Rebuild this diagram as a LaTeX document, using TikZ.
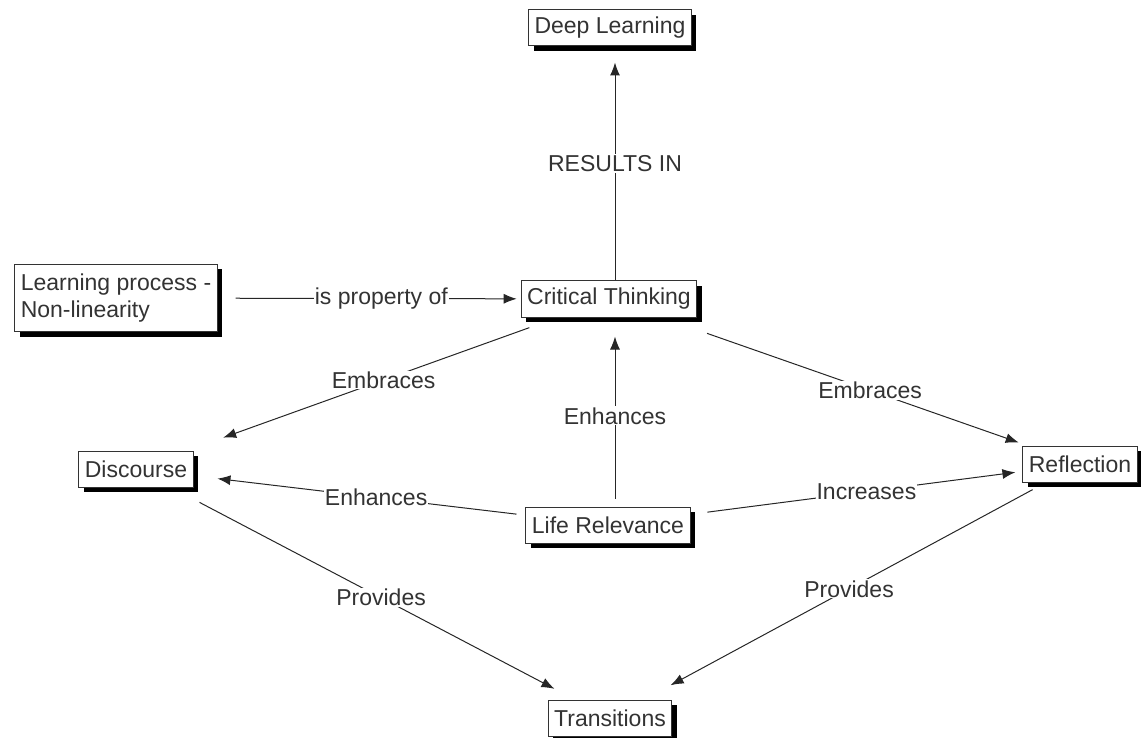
\documentclass[tikz,border=0pt]{standalone}
\usepackage{fontspec}
\setmainfont{Liberation Sans}
\usetikzlibrary{shapes, shadows, arrows.meta}

\begin{document}
\begin{tikzpicture}[x=1pt, y=-1pt]
	\tikzstyle{conceptnode}=[
	draw=black!80,
	line width=1pt,
	fill=white,
	rectangle,
	inner xsep=6pt,
	minimum height=36pt,
	text=black!80,
	font=\fontsize{23}{27}\selectfont,
	drop shadow={shadow xshift=5pt, shadow yshift=-5pt, fill=black, opacity=1}
	]
	\tikzstyle{linklabel}=[
	fill=white,
	inner sep=1pt,
	text=black!80,
	font=\fontsize{23}{27}\selectfont
	]
	\tikzstyle{link}=[-{Latex[length=13pt,width=10pt]}, line width=1pt, black!85]
	\useasboundingbox (0,0) rectangle (1141,738);
	% concepts
	\node[conceptnode] (DEEP) at (610,28) {Deep Learning};
	\node[conceptnode, align=left, minimum height=67pt] (PROC) at (116,298) {Learning process -\\Non-linearity};
	\node[conceptnode] (CRIT) at (609,299) {Critical Thinking};
	\node[conceptnode] (DISC) at (136,469) {Discourse};
	\node[conceptnode] (REFL) at (1080,464) {Reflection};
	\node[conceptnode] (LIFE) at (608,525) {Life Relevance};
	\node[conceptnode] (TRANS) at (610,718) {Transitions};
	% links
	\draw[link, shorten >=16pt] ([xshift=6pt]CRIT.north) -- node[linklabel, pos=0.5] {RESULTS IN} ([xshift=5pt]DEEP.south);
	\draw[link, shorten <=18pt, shorten >=4pt] (PROC) -- node[linklabel, pos=0.54] {is property of} (CRIT);
	\draw[link, shorten <=30pt, shorten >=38pt] (CRIT) -- node[linklabel, pos=0.47] {Embraces} (DISC);
	\draw[link, shorten <=48pt, shorten >=9pt] (CRIT) -- node[linklabel, pos=0.57] {Embraces} (REFL);
	\draw[link, shorten <=8pt, shorten >=19pt] ([xshift=7pt]LIFE.north) -- node[linklabel, pos=0.48] {Enhances} ([xshift=6pt]CRIT.south);
	\draw[link, shorten <=9pt, shorten >=24pt] (LIFE) -- node[linklabel, pos=0.45] {Enhances} (DISC);
	\draw[link, shorten <=17pt, shorten >=7pt] (LIFE) -- node[linklabel, pos=0.53] {Increases} (REFL);
	\draw[link, shorten <=32pt, shorten >=23pt] (DISC) -- node[linklabel, pos=0.52] {Provides} (TRANS);
	\draw[link, shorten <=15pt, shorten >=30pt] (REFL) -- node[linklabel, pos=0.49] {Provides} (TRANS);
\end{tikzpicture}
\end{document}
